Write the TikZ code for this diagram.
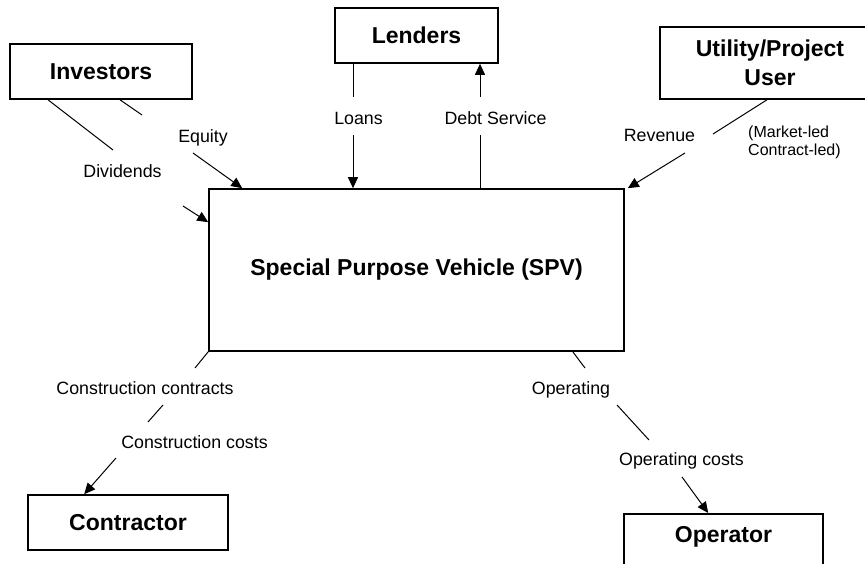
\documentclass[tikz,border=0pt]{standalone}
\usepackage{fontspec}
\setmainfont{Liberation Sans}
\usetikzlibrary{arrows.meta}
\newcommand{\partyfont}{\fontsize{23}{29}\selectfont\bfseries}
\newcommand{\flowfont}{\fontsize{17.8}{20}\selectfont}
\newcommand{\notefont}{\fontsize{16}{18}\selectfont}
\tikzset{
  % Specifications for style of nodes:
  base/.style = {
    rectangle,
    draw=black,
    line width=1.6pt,
    text centered,
    inner sep=0pt
  },
  party/.style = {
    base,
    minimum height=55pt,
    font=\partyfont
  },
  flowtag/.style = {
    inner sep=0pt,
    font=\flowfont
  },
  % Specifications for style of connectors:
  link/.style = {
    draw=black,
    line width=1pt
  },
  flow/.style = {
    link,
    -{Triangle[length=11pt,width=10pt]}
  },
}

\begin{document}
\begin{tikzpicture}[x=1pt, y=-1pt]
    \useasboundingbox (0,0) rectangle (865,564);
    \clip (0,0) rectangle (865,564);
    % Specification of nodes (position, etc.)
    \node[party, minimum width=182pt]                      (inv)   at (101,71.5)  {Investors};
    \node[party, minimum width=163pt]                      (lend)  at (416.5,35.5) {Lenders};
    \node[party, minimum width=220pt, minimum height=72pt, align=center]
                                                           (util)  at (770,63)    {Utility/Project\\User};
    \node[party, minimum width=415pt, minimum height=162pt] (spv)  at (416.5,270) {Special Purpose Vehicle (SPV)};
    \node[party, minimum width=200pt]                      (cont)  at (128,522.5) {Contractor};
    \node[base, font=\partyfont, minimum width=199pt, inner ysep=13pt, text depth=40pt, anchor=north]
                                                           (oper)  at (723.5,513) {Operator};
    % Labels of the flows
    \node[flowtag] (equity)   at (203,137.5)   {Equity};
    \node[flowtag] (divid)    at (122.5,171.5) {Dividends};
    \node[flowtag] (loans)    at (358.5,118.5) {Loans};
    \node[flowtag] (debt)     at (495.5,118.5) {Debt Service};
    \node[flowtag] (revenue)  at (659.5,135.5) {Revenue};
    \node[inner sep=0pt, font=\notefont, align=left, anchor=west]
                   (market)   at (748,142.5)   {(Market-led\\Contract-led)};
    \node[flowtag] (concontr) at (145,388.5)   {Construction contracts};
    \node[flowtag] (concost)  at (194.5,442.5) {Construction costs};
    \node[flowtag] (operat)   at (571,390)     {Operating};
    \node[flowtag] (opcost)   at (681.5,461)   {Operating costs};
    % Break points of the connectors
    \coordinate (eqA) at (142,115);
    \coordinate (eqB) at (193,153);
    \coordinate (dvA) at (113,150);
    \coordinate (dvB) at (183,206);
    \coordinate (lnA) at (353,97);
    \coordinate (lnB) at (353,135);
    \coordinate (dsA) at (480,135);
    \coordinate (dsB) at (480,97);
    \coordinate (rvA) at (713,134);
    \coordinate (rvB) at (685,153);
    \coordinate (cnA) at (195,368);
    \coordinate (cnB) at (163,405);
    \coordinate (cnC) at (148,422);
    \coordinate (cnD) at (116,458);
    \coordinate (opA) at (585,368);
    \coordinate (opB) at (617,405);
    \coordinate (opC) at (649,440);
    \coordinate (opD) at (682,477);
    % Connectors
    \draw[link] ([xshift=19pt]inv.south) -- (eqA);
    \draw[flow] (eqB) -- ([xshift=34pt]spv.north west);
    \draw[link] ([xshift=-53pt]inv.south) -- (dvA);
    \draw[flow] (dvB) -- ([yshift=-34pt]spv.north west);
    \draw[link] (lnA |- lend.south) -- (lnA);
    \draw[flow] (lnB) -- (lnB |- spv.north);
    \draw[link] (dsA |- spv.north) -- (dsA);
    \draw[flow] (dsB) -- (dsB |- lend.south);
    \draw[link] ([xshift=-3pt]util.south) -- (rvA);
    \draw[flow] (rvB) -- ([xshift=3pt]spv.north east);
    \draw[link] (spv.south west) -- (cnA);
    \draw[link] (cnB) -- (cnC);
    \draw[flow] (cnD) -- ([xshift=57pt]cont.north west);
    \draw[link] ([xshift=-52pt]spv.south east) -- (opA);
    \draw[link] (opB) -- (opC);
    \draw[flow] (opD) -- ([xshift=85pt]oper.north west);
\end{tikzpicture}
\end{document}
